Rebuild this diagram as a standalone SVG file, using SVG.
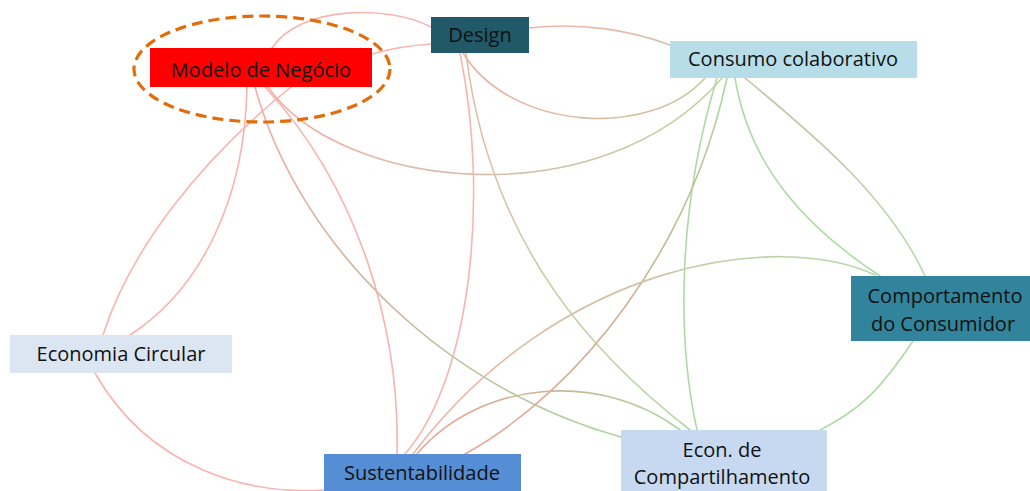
<svg xmlns="http://www.w3.org/2000/svg" width="1030" height="491" viewBox="0 0 1030 491">
  <style>
    .edge { fill: none; stroke-width: 1.6; stroke-linecap: round; }
    .pink { stroke: #f8b4ae; }
    .green { stroke: #abdca3; }
    .lbl { font-family: "Open Sans", "Noto Sans", "Liberation Sans", sans-serif; font-size: 20px; fill: #111; text-anchor: middle; }
  </style>
  <defs>
    <linearGradient id="g3" gradientUnits="userSpaceOnUse" x1="529" y1="28" x2="670" y2="45"><stop offset="0" stop-color="#f6b1a8"/><stop offset="1" stop-color="#dcc0a8"/></linearGradient>
    <linearGradient id="g4" gradientUnits="userSpaceOnUse" x1="463" y1="53" x2="705" y2="78"><stop offset="0" stop-color="#f2ae9f"/><stop offset="1" stop-color="#c9c6a0"/></linearGradient>
    <linearGradient id="g5" gradientUnits="userSpaceOnUse" x1="268" y1="87" x2="722" y2="78"><stop offset="0" stop-color="#f2aea5"/><stop offset="0.5" stop-color="#d5bda5"/><stop offset="1" stop-color="#c3d2a5"/></linearGradient>
    <linearGradient id="g7" gradientUnits="userSpaceOnUse" x1="466" y1="53" x2="690" y2="430"><stop offset="0" stop-color="#e8b9a3"/><stop offset="1" stop-color="#afd8a4"/></linearGradient>
    <linearGradient id="g11" gradientUnits="userSpaceOnUse" x1="255" y1="87" x2="621" y2="437"><stop offset="0" stop-color="#f6aca6"/><stop offset="0.5" stop-color="#c6b598"/><stop offset="1" stop-color="#a8d69c"/></linearGradient>
    <linearGradient id="g14" gradientUnits="userSpaceOnUse" x1="727" y1="78" x2="465" y2="454"><stop offset="0" stop-color="#b0d6a0"/><stop offset="0.5" stop-color="#ccb394"/><stop offset="1" stop-color="#eca595"/></linearGradient>
    <linearGradient id="g16" gradientUnits="userSpaceOnUse" x1="745" y1="78" x2="925" y2="276"><stop offset="0" stop-color="#cbbfa4"/><stop offset="1" stop-color="#b3dcaa"/></linearGradient>
    <linearGradient id="g17" gradientUnits="userSpaceOnUse" x1="875" y1="275" x2="413" y2="454"><stop offset="0" stop-color="#b3dba8"/><stop offset="0.5" stop-color="#cfc2a3"/><stop offset="1" stop-color="#efb3a6"/></linearGradient>
    <linearGradient id="g19" gradientUnits="userSpaceOnUse" x1="417" y1="454" x2="680" y2="430"><stop offset="0" stop-color="#e9a898"/><stop offset="0.5" stop-color="#cdb496"/><stop offset="1" stop-color="#aed79f"/></linearGradient>
  </defs>

  <!-- connectors -->
  <g id="connectors">
    <path class="edge pink" d="M272,48 C300,5 390,5 431,27"/>
    <path class="edge pink" d="M372,54 Q400,46 431,44"/>
    <path class="edge" stroke="url(#g3)" d="M529,28 C580,22 630,30 670,45"/>
    <path class="edge" stroke="url(#g4)" d="M463,53 C510,130 650,140 705,78"/>
    <path class="edge" stroke="url(#g5)" d="M268,87 C340,190 600,220 722,78"/>
    <path class="edge pink" d="M460,53 C490,200 470,380 405,454"/>
    <path class="edge" stroke="url(#g7)" d="M466,53 C490,250 600,360 690,430"/>
    <path class="edge pink" d="M247,87 C245,200 200,290 130,335"/>
    <path class="edge pink" d="M291,87 C200,160 130,250 103,335"/>
    <path class="edge pink" d="M95,373 C150,470 250,495 324,490"/>
    <path class="edge" stroke="url(#g11)" d="M255,87 C300,250 450,390 621,437"/>
    <path class="edge pink" d="M265,87 C360,190 400,330 397,454"/>
    <path class="edge green" d="M717,78 C680,200 675,330 697,430"/>
    <path class="edge" stroke="url(#g14)" stroke-width="2.4" d="M727,78 C690,250 580,390 465,454"/>
    <path class="edge green" d="M735,78 C750,170 810,230 880,276"/>
    <path class="edge" stroke="url(#g16)" d="M745,78 C820,140 890,200 925,276"/>
    <path class="edge" stroke="url(#g17)" d="M875,275 C780,230 560,260 413,454"/>
    <path class="edge green" d="M913,341 C880,390 860,410 820,430"/>
    <path class="edge" stroke="url(#g19)" stroke-width="2" d="M417,454 C480,380 600,370 680,430"/>
  </g>

  <!-- nodes -->
  <g id="modelo">
    <rect x="150" y="48" width="222" height="39" fill="#ff0000"/>
    <text class="lbl" x="261" y="77">Modelo de Negócio</text>
    <ellipse cx="262" cy="69" rx="128" ry="53" fill="none" stroke="#e36c0a" stroke-width="3.2" stroke-dasharray="11 6"/>
  </g>
  <g id="design">
    <rect x="431" y="17" width="98" height="36" fill="#215968"/>
    <text class="lbl" x="480" y="42">Design</text>
  </g>
  <g id="consumo">
    <rect x="670" y="41" width="247" height="37" fill="#b7dee8"/>
    <text class="lbl" x="793" y="66">Consumo colaborativo</text>
  </g>
  <g id="comportamento">
    <rect x="851" y="276" width="179" height="65" fill="#31849b"/>
    <text class="lbl" x="945" y="303">Comportamento</text>
    <text class="lbl" x="943" y="331">do Consumidor</text>
  </g>
  <g id="economia-circular">
    <rect x="10" y="335" width="222" height="38" fill="#dce6f2"/>
    <text class="lbl" x="121" y="361">Economia Circular</text>
  </g>
  <g id="sustentabilidade">
    <rect x="324" y="454" width="197" height="37" fill="#558ed5"/>
    <text class="lbl" x="422" y="480">Sustentabilidade</text>
  </g>
  <g id="econ-compartilhamento">
    <rect x="621" y="430" width="206" height="61" fill="#c6d9f1"/>
    <text class="lbl" x="722" y="457">Econ. de</text>
    <text class="lbl" x="722" y="484">Compartilhamento</text>
  </g>
</svg>
